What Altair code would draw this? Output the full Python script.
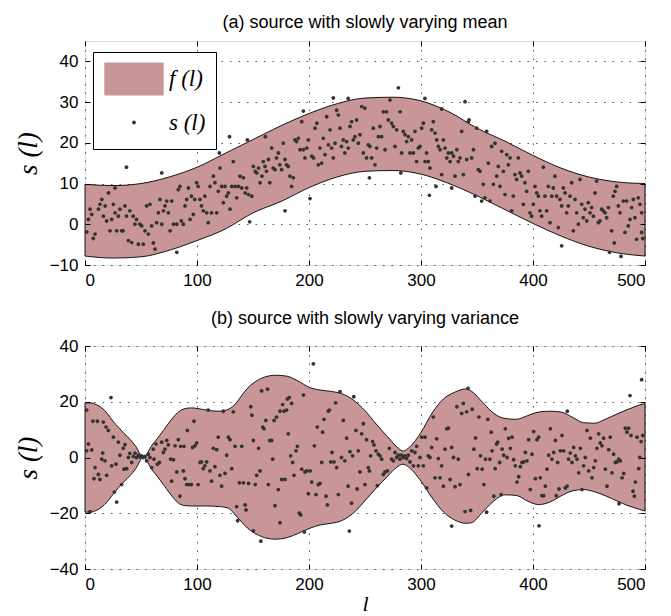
import altair as alt
import pandas as pd

# ---------------- panel (a): band f(l) ----------------
band_a_l = [0, 25, 50, 75, 100, 125, 150, 175, 200, 225, 250, 275, 300, 325, 350, 375, 400, 425, 450, 475, 500]
band_a_hi = [9.8, 9.5, 10.0, 11.6, 14.0, 17.4, 20.8, 24.2, 27.2, 29.6, 31.0, 31.2, 30.3, 27.6, 23.6, 20.4, 16.9, 13.8, 11.6, 10.4, 10.0]
band_a_lo = [-7.8, -8.3, -8.0, -6.4, -4.0, -1.2, 2.8, 5.6, 9.0, 11.6, 13.0, 13.2, 12.3, 10.0, 7.0, 3.6, 0.2, -2.9, -5.4, -7.0, -7.8]

# ---------------- panel (a): samples s(l) ----------------
pts_a = [
    (1.5, -1.9), (3, 1.2), (4.5, 3.7), (6, 2.4), (7.4, -3.5), (9, -2.4), (12, 3.7), (13.4, 4.9), (15, 6.1), (16.4, 2),
    (18, 4.5), (19.3, 0.8), (21, 7.7), (22.3, -1.6), (23.8, 1.2), (25.3, 4.9), (26.8, 8.9), (26.8, 2.8), (28.3, -1.6),
    (29.8, 2), (31.2, 3.7), (32.7, -1.6), (34, -1.6), (35.7, 4.5), (37, 2), (37, 14), (38.7, -4), (40, 3.3), (41.7, -4.5),
    (43, 2), (44.6, 0), (46, 1.2), (47.6, -4.9), (49, 0), (50.6, -0.4), (52, -4.9), (53.6, -1.6), (55, 4.5), (56.5, -2.4),
    (58, 4.9), (59.5, -0.4), (61, -4.6), (62.5, -6.1), (64, 0.4), (65.5, 2.8), (67, 6.1), (68.5, 0), (68.5, 12.6), (70, 3.3),
    (71.4, 4.5), (73, 5.7), (74.4, 2.8), (76, -1.6), (77.4, 5.7), (79, 0), (82, 0), (82, -6.9), (83.3, 8.5), (84.8, 9.3),
    (86, 0.8), (87.8, 0), (89.3, 4.5), (90.8, 6.1), (92.3, 8.9), (93.8, 1.2), (95, 6.9), (96.7, 2.4), (98, 6.1), (99.7, 10.2),
    (101, 9.3), (102.7, 6.1), (104, 4.5), (105.6, 3.3), (107, 6.9), (108.6, 2.8), (110, 0.4), (111.6, 9.3), (113, 2.8),
    (114.6, 11.8), (116, 10.2), (117.6, 2.8), (119, 8.1), (120, 17.5), (120.5, 13.8), (122, 9.3), (123.5, 5.3), (125, 9.3),
    (126.5, 6.9), (128, 7.7), (129, 21.5), (129.5, 3.7), (131, 9.3), (132.4, 15.4), (134, 9.3), (135.4, 6.5), (137, 9.3),
    (138.4, 11.8), (140, 8.9), (141.4, 11.4), (143, 7.7), (144.4, 8.9), (145, 20.7), (146, 7.3), (147, 0.6), (149, 6.9),
    (150.3, 14.2), (152, 13), (153.3, 12.6), (155, 13.8), (156.3, 10.2), (158, 11.8), (159.2, 15.4), (160.7, 14.2),
    (161, 21.5), (162, 13), (163.7, 15.9), (165, 10.2), (166.7, 18.7), (168, 13.8), (169.6, 13.4), (171, 16.3), (172.6, 17.5),
    (174, 14.6), (175.6, 13.4), (177, 19.9), (178.6, 15.9), (178.6, 3.3), (180, 14.6), (181.5, 14.2), (183, 11.8),
    (184.5, 9.3), (186, 11.4), (187.5, 20.7), (188.9, 20.3), (190.5, 21.1), (192, 18.3), (193.5, 25.2), (195, 18.3),
    (195, 27.8), (196.4, 16.3), (198, 18.7), (199.4, 20.7), (200.9, 6.3), (202.4, 16.7), (204, 16.3), (205.4, 23.6),
    (207, 24.8), (208.3, 14.6), (209.8, 18.7), (211.3, 15), (212.8, 21.1), (214.3, 17.1), (215.8, 26.4), (217.3, 19.5),
    (218.8, 23.2), (220.2, 18.7), (221.7, 16.3), (221.7, 31), (223.2, 19.9), (224.7, 28), (226.2, 26.8), (227.7, 23.6),
    (229, 19.1), (230.6, 20.7), (232, 17.5), (233.6, 20.3), (235, 18.7), (235, 30.9), (236.6, 24), (238, 25.2),
    (239.5, 20.7), (241, 21.5), (242.5, 25.6), (244, 19.9), (245.5, 22), (247, 28.9), (248.5, 17.5), (249.9, 28.5),
    (251.4, 16.3), (252.9, 19.5), (253.9, 11.4), (254.4, 19.1), (255.9, 16.3), (257.4, 23.6), (258.9, 14.6),
    (260.4, 18.7), (261.9, 21.5), (263.4, 24), (264.9, 21.5), (266.4, 27.6), (267.9, 18.3), (269.3, 27.6), (270.8, 25.6),
    (272.3, 30.5), (273.8, 24.8), (275.3, 24), (276.8, 19.1), (278.3, 23.2), (279.8, 33.5), (281.3, 27.6), (282, 12.6),
    (282.7, 17.5), (284.2, 22.8), (285.7, 22), (287.2, 20.3), (288.7, 21.5), (290.2, 17.5), (291.7, 20.7), (293.2, 17.5),
    (294.6, 22.8), (296.1, 15.4), (297.6, 18.7), (299.1, 19.1), (300.6, 23.6), (302.1, 24.8), (303.5, 30.9), (303.6, 15.4),
    (305, 17.5), (306.5, 15.4), (307.5, 7.1), (308, 13.8), (309.5, 23.2), (311, 25.2), (312.5, 22.4), (313.4, 9.3),
    (314, 20.7), (315.5, 19.1), (317, 18.3), (318.4, 12.2), (318.4, 28.3), (320, 20.7), (321.4, 18.7), (323, 16.3),
    (324.4, 17.5), (326, 15.4), (327.4, 17.5), (327.4, 8.9), (329, 16.7), (330.4, 11.8), (332, 18.3), (333.3, 15.4),
    (334.8, 16.3), (336.3, 22.8), (337.8, 12.2), (339.3, 30.1), (340.8, 15.9), (342.3, 25.2), (342.9, 25.6),
    (345.2, 16.3), (346.8, 18.3), (348.2, 6.9), (349.7, 23.6), (351.2, 13.4), (352.7, 13), (354.2, 5.7), (355.6, 9.8),
    (357.1, 6.5), (358.6, 22.8), (360.1, 15), (361.6, 5.7), (363.1, 19.1), (364.6, 9.8), (366, 19.9), (367.6, 11.8),
    (369, 14.2), (370.5, 9.3), (372, 17.9), (373.5, 13), (375, 7.3), (376.5, 17.1), (378, 14.6), (379.5, 16.3), (381, 3.3),
    (382.4, 6.9), (383.9, 12.2), (385.4, 11), (386.9, 16.3), (388.4, 12.6), (389.9, 11.8), (391.4, 4.9), (392.8, 10.2),
    (394.3, 8.1), (395.8, 13), (397.3, 2.8), (398.8, 2), (400.3, 4.9), (401.8, 9.3), (403.3, 7.7), (404.8, 6.9),
    (406.2, 3.3), (407.7, 2), (409.2, 14), (410.7, 6.9), (412.2, 3.3), (413.7, 9.3), (415.2, 0.4), (416.7, 6.9),
    (418.1, 8.9), (419.6, 11.8), (421.1, 6.9), (422.6, -0.8), (424.1, 6.1), (425.6, 4.5), (425.6, -5.3), (427.1, 8.9),
    (428.6, 7.7), (430, 2.8), (431.5, 4.5), (433, 6.9), (434.5, 10.2), (436, -1.6), (437.5, 6.1), (439, 2.8), (440.5, 0),
    (442, 11), (443.5, 4.9), (444.9, 1.6), (446.4, 3.7), (448, 0.8), (449.4, 5.3), (450.9, 2.8), (452.4, 4.1), (453.9, 2),
    (455.4, 7.7), (456.8, 10.6), (458.3, 0.4), (459.8, 0.8), (461.3, 3.7), (462.8, 3.3), (464.3, 2.8), (465.8, 1.6),
    (467.3, 4.1), (468.3, -6.9), (470.2, -1.6), (471.7, 6.9), (472.6, -4.6), (473.2, 8.1), (474.7, 9.3), (476.2, 4.5),
    (477.7, 2.8), (478.6, -7.9), (480.7, 5.7), (482.1, -2), (483.6, 5.7), (485.1, -0.4), (486.6, 1.2), (488.1, 4.1),
    (489.6, 6.1), (491, 1.6), (492.5, -3.7), (494, 6.5), (495.5, 4.9), (497, -2), (497, 2.8), (498, -3.5),
]
pts_a_l = [p[0] for p in pts_a]
pts_a_s = [p[1] for p in pts_a]

# ---------------- panel (b): band f(l) ----------------
band_b_l = [0, 5, 10, 15, 20, 25, 30, 35, 40, 45, 52, 60, 65, 70, 75, 80, 85, 90, 95, 100, 110, 120, 128, 135, 140,
            145, 150, 160, 170, 180, 190, 200, 210, 220, 230, 240, 250, 260, 270, 278, 284, 290, 300, 310, 320, 330,
            340, 345, 355, 365, 375, 385, 395, 405, 415, 425, 435, 445, 455, 465, 475, 485, 495, 500]
band_b_hi = [19.6, 19.6, 19.0, 17.8, 15.8, 13.0, 10.8, 8.6, 6.6, 4.2, 0.0, 4.5, 7.0, 9.7, 12.5, 15.0, 16.8, 17.6, 17.8,
             17.6, 16.9, 16.6, 17.3, 19.5, 22.3, 24.8, 26.6, 28.8, 29.5, 29.2, 27.5, 25.2, 24.2, 23.7, 22.8, 20.5, 16.8,
             12.0, 7.5, 4.0, 2.3, 3.8, 9.0, 16.0, 21.0, 23.4, 24.6, 23.8, 19.8, 15.8, 14.0, 13.7, 15.0, 16.3, 16.6, 16.3,
             14.5, 12.5, 12.3, 13.8, 15.6, 17.3, 18.8, 19.4]
band_b_lo = [-19.6, -19.6, -19.0, -17.8, -15.8, -13.2, -10.8, -8.6, -6.6, -4.2, 0.0, -4.5, -7.0, -9.7, -12.5, -15.0,
             -16.8, -17.3, -17.4, -17.4, -17.4, -17.6, -18.2, -21.0, -23.2, -25.3, -26.8, -28.7, -29.3, -28.8, -27.3,
             -25.5, -24.2, -23.6, -22.5, -19.8, -15.5, -11.0, -6.8, -3.6, -2.4, -3.8, -8.5, -14.5, -19.5, -22.4, -23.6,
             -23.4, -19.6, -15.6, -13.4, -13.6, -15.6, -16.9, -16.0, -13.8, -12.0, -11.5, -12.3, -13.8, -15.6, -17.3,
             -18.6, -19.2]

# ---------------- panel (b): samples s(l) ----------------
pts_b = [
    (1.5, 17), (1.5, 2.4), (3, 4.8), (4.5, -19.4), (6, 2.7), (7, 13), (8, -7.6), (9, -3.6), (11, 13), (11.9, -6.1),
    (13.4, -7.9), (15, -0.6), (15.8, 1.6), (16.4, 12.7), (17.9, -1.2), (18.8, 10.9), (19.3, -6.4), (20.8, 9.7),
    (23.2, 21.5), (23.8, -3), (25.3, 7.3), (26.2, -12.4), (27.7, -2.4), (28.3, -16), (29.8, 5.5), (31.2, 0.8),
    (32.7, -9.7), (34.2, 3.3), (34.8, -4.2), (35.7, 4.6), (37.2, -4), (38.7, 0), (40, 1.5), (41.7, -1.8), (43.1, 0.4),
    (44.6, 1.6), (46, 0), (47.6, 0.8), (49, 0.2), (50.6, 0.6), (52, 0), (53.6, 0.4), (55, -1.2), (56.5, 1.2), (58, 0),
    (59.5, -3.6), (61, 3), (61.6, -0.6), (63.4, 4.8), (64.6, -2.4), (66.4, -1.8), (68.5, 5.5), (70, 1.8), (71.4, 3),
    (73, 6.1), (74.4, 4.5), (76.5, -0.6), (77.4, -8.5), (79, -0.8), (80.4, 4.2), (82, -5.2), (83.3, 6.4), (84.8, -13.9),
    (85.4, 4), (87.8, -4.8), (88.4, 4), (89.3, -7.6), (90.8, -9.7), (91.4, 9.7), (93, -9.7), (95, -9.7), (96, 3.6),
    (97.3, 13), (98.2, 4.2), (99.7, 5.2), (101, -9.7), (102.7, -1.8), (104, -1.6), (105.6, -4), (107, -3), (108.6, -1.6),
    (110, 17), (111.6, -4.8), (113, -8.5), (114.6, 3.3), (116, -3.3), (117.6, 2.8), (119, 7.3), (120.5, -6.4),
    (122, -10.3), (123.5, 16.6), (125, -5.7), (126.5, 0.8), (128, 7.3), (129.5, 6.4), (131, -4), (132.4, 16.4), (134, 4),
    (135.4, -17.6), (136.3, -22.7), (137.8, -9.1), (140, 4), (141.4, -9.1), (143, -17), (143.8, -18.8), (146, -9.3),
    (148, 18.2), (149, 15.2), (150.3, 6.1), (150.3, -26.3), (152, -9.7), (153.3, -6.4), (155, 3.3), (156.3, -4.8),
    (157, -30), (157.7, 23.9), (158.7, 10.9), (159.8, 10.3), (161.5, 13.3), (163, 24.5), (163.7, -9.7), (165, 6.1),
    (166.7, 6.1), (167.6, -0.6), (168.8, 13.3), (169.6, -17.3), (171, 14.5), (172.6, -11.5), (174.1, 16.6),
    (174.1, -23.4), (175.6, -7.9), (176.5, 19), (177.7, 16.6), (178.6, -7.9), (180, 17), (180.7, 21), (181.5, 8.5),
    (182.4, 21.5), (183.6, 0.6), (184.5, 19.4), (185.4, -1.8), (186.6, -6.4), (188.4, 2.4), (189.6, 4), (191.4, -20),
    (192.6, -20.6), (193.5, -4.2), (195, 22.4), (195.8, -26.7), (196.4, -5.2), (198, -4.8), (199.4, -13), (201, -4.8),
    (202.4, -8.8), (203.9, 33.6), (204.8, 4.2), (206.3, -13.3), (207.4, 10.9), (208.3, -9.7), (209.8, -9.3),
    (211.3, -1.8), (212.2, 9.1), (213.4, 13.7), (215.2, -13.9), (216.4, -17), (217.3, 16.6), (218.2, 17), (219.4, -1.6),
    (220.5, 1.8), (222.3, -1.6), (223.8, 19.6), (224.7, -3.6), (226.2, -13.3), (227.7, 23.6), (229, 0), (230.6, 13.3),
    (232, -1.2), (233.6, 6.9), (235, -10.3), (236, -26.4), (236.6, 2.1), (238, -16.4), (238.9, 0.6), (240, 21.8),
    (241.9, 9.7), (243, -11.3), (244, 2.4), (245.5, -5.2), (247, 8.5), (248.5, 12.1), (249.9, -9.7), (251.4, 6.4),
    (252.9, -3.6), (253.9, -4.8), (255, 0.6), (256.8, 5.7), (258, 4.5), (259.8, 2.4), (261, -10.1), (261.9, 1.2),
    (263.4, 0.6), (264.9, -0.6), (266.4, -6.1), (267.9, -5.2), (270, -4.8), (271.7, 3.3), (273.8, -0.6), (275.3, -1.2),
    (276.8, 1.8), (278.3, 0), (279.8, 0.8), (281.3, -0.6), (282.7, 0.8), (284.2, 0), (285.7, 0.6), (287.2, -0.4),
    (288.7, 0.8), (290.2, -1.6), (291.7, 2.4), (293.2, -3), (294.6, 1.8), (296.1, 4), (297.6, -3), (299.1, 0),
    (300.6, 7.3), (302.1, -3), (303.6, 7.3), (305, -10.9), (306.5, 0.6), (308, 0), (309.5, 3.6), (311, 14.5),
    (312.5, -7.3), (314, 6.7), (315.5, -0.4), (317, -7.3), (318.4, -3), (320, -10.3), (321.4, 3), (323, 10.3),
    (324.4, 10.5), (326, -7.9), (327.4, 3.6), (327.4, -24.6), (329, 0), (330.4, -10.5), (332, 18.2), (333.3, -0.6),
    (334.8, -9.7), (336.3, 15.8), (337.8, 19.4), (339.3, -19.4), (340.8, 16.4), (342, 24.8), (342.3, -6.1),
    (344.3, -19), (345.7, 17.3), (347.2, 3), (348.7, 7), (350.2, -4), (351.7, 14.5), (353.1, 0.6), (354.6, -4.2),
    (356.1, -9.7), (357.6, -0.6), (358.6, -19.6), (359.7, 13.7), (361.5, -0.6), (362.7, 9.1), (363.5, 2.4),
    (365, -13.9), (366.2, -4), (367.4, 4.8), (368.5, 5.5), (370.3, -1.8), (371.5, -13.3), (372.4, 3), (373.8, 0.8),
    (375.3, 10.3), (376.8, 0), (378.3, 6.9), (379.8, 3.3), (381.3, 7.3), (382.7, -0.8), (384.2, -3), (385.7, -8.8),
    (387.2, -6.9), (388.7, -3.3), (390.2, -1.8), (391.7, -1.6), (393.2, 1.8), (394.6, -1.2), (396.1, 6.4),
    (397.6, -11.5), (399.1, 1.2), (400.6, 9.3), (402.1, -7.6), (403.6, 6.4), (405, 7.3), (405.4, -24.5), (406.5, -7.3),
    (408, -13.7), (409.5, -13.7), (411, -10.3), (412.5, -4.2), (414, 0.8), (415.5, 10.3), (416.9, -0.6), (418.5, 1.8),
    (420, 6.1), (420.8, -13.7), (422, -1.8), (423.2, -11.3), (424.4, 2.4), (425.9, 7.9), (427.4, 2.4), (428.9, -10.9),
    (430.4, -10.3), (430.6, 16.6), (431.8, -0.6), (433.3, 1.6), (434.8, -1.8), (436.3, 3.6), (437.8, 0.6),
    (439.3, -0.6), (440.8, -5.5), (442.3, 3.3), (443.8, -11.5), (445.2, -3), (446.7, 0), (448.2, 9.7), (449.7, -4.8),
    (451.2, 6.9), (452.7, -7.3), (454.2, -3.6), (455.7, -1.2), (457.1, 3.3), (458.6, 8.5), (460.1, 5.2), (461.6, 4.2),
    (463.1, 6.9), (464.6, -4.2), (466.1, -10.3), (467.6, 2.8), (469, 7.3), (470.5, -5.5), (472, 1.2), (473.5, -1.8),
    (475, -1.6), (476.5, -0.6), (476.8, -16.6), (478, -1.2), (479.5, -7.3), (481, -5.7), (482.4, 10.5), (483.9, 9.1),
    (485.4, 10.5), (486.6, 22.2), (487.5, 7.9), (489.3, -12.1), (490.5, -13.9), (491.4, -8.8), (492.9, 7.3),
    (494.4, -4), (495.3, 0), (496.5, 5.7), (497, 27.9), (498, 7.9),
]
pts_b_l = [p[0] for p in pts_b]
pts_b_s = [p[1] for p in pts_b]

x_ticks = [0, 100, 200, 300, 400, 500]
y_ticks_a = [-10, 0, 10, 20, 30, 40]
y_ticks_b = [-40, -20, 0, 20, 40]
legend_labels = ["f (l)", "s (l)"]
titles = ["(a) source with slowly varying mean", "(b) source with slowly varying variance"]

BAND = "#c99697"
DOT = "#333333"
SANS = "Liberation Sans"
SERIF = "Liberation Serif"
W = 560
INNER = {"expr": "-5"}
GRID = dict(grid=True, gridColor="#555555", gridDash=[1.5, 7], gridWidth=1)
RECT_PATH = "M-1.8,-1H1.8V1H-1.8Z"
# small filled dot; the two bare move-to points only widen its layout box (used by the legend row height)
DOT_PATH = "M0.136,0A0.136,0.136 0 1,1 -0.136,0A0.136,0.136 0 1,1 0.136,0Z M0,-1 M0,1"
DOT_SIZE = 784
NBSP = "\u00a0"


def tick_axis(orient, values):
    return alt.Axis(values=values, orient=orient, tickSize=INNER, tickColor="black", tickWidth=1,
                    labels=False, domain=False, grid=False, title=None, zindex=2)


def panel(band_l, band_lo, band_hi, pl, ps, ydom, yticks, title, height, legend=False, xtitle=None):
    band_df = pd.DataFrame({"l": band_l, "lo": band_lo, "hi": band_hi})
    pts_df = pd.DataFrame({"l": pl, "s": ps, "series": legend_labels[1]})
    xs = alt.Scale(domain=[0, 500], nice=False, zero=False)
    ys = alt.Scale(domain=ydom, nice=False, zero=False)

    x_main = alt.Axis(values=x_ticks, orient="bottom", ticks=False, labelPadding=7,
                      labelFont=SANS, labelFontSize=17, labelColor="black", domain=False, zindex=0,
                      title=xtitle, titleFont=SERIF, titleFontStyle="italic", titleFontWeight="normal",
                      titleFontSize=22, titleColor="black", titlePadding=1, **GRID)
    y_main = alt.Axis(values=yticks, orient="left", ticks=False, labelPadding=7,
                      labelFont=SANS, labelFontSize=17, labelColor="black", domain=False, zindex=0,
                      title="s (l)", titleFont=SERIF, titleFontStyle="italic", titleFontWeight="normal",
                      titleFontSize=27, titleColor="black", titlePadding=7, **GRID)

    band = alt.Chart(band_df).mark_area(
        interpolate="monotone", fill=BAND, stroke="black", strokeWidth=0.9
    ).encode(
        x=alt.X("l:Q", scale=xs, axis=x_main),
        y=alt.Y("lo:Q", scale=ys, axis=y_main),
        y2="hi:Q",
    )

    # invisible layer that only carries the inward ticks of the bottom / left edges
    ticks_bl = alt.Chart(band_df).mark_line(opacity=0).encode(
        x=alt.X("l:Q", scale=xs, axis=tick_axis("bottom", x_ticks)),
        y=alt.Y("hi:Q", scale=ys, axis=tick_axis("left", yticks)),
    )

    if legend:
        lg = alt.Legend(title=None, orient="none", legendX=8, legendY=11, padding=10,
                        fillColor="white", strokeColor="black", labelFont=SERIF,
                        labelFontStyle="italic", labelFontSize=23, labelColor="black", labelOffset=18,
                        labelExpr="datum.label + '" + NBSP * 3 + "'",
                        symbolOffset=14, rowPadding=8, symbolStrokeColor="black", symbolStrokeWidth=0.8)
        pts = alt.Chart(pts_df).mark_point(filled=True, opacity=1, strokeWidth=0).encode(
            x=alt.X("l:Q", scale=xs, axis=tick_axis("top", x_ticks)),
            y=alt.Y("s:Q", scale=ys, axis=tick_axis("right", yticks)),
            fill=alt.Fill("series:N", scale=alt.Scale(domain=legend_labels, range=[BAND, DOT]), legend=lg),
            shape=alt.Shape("series:N", scale=alt.Scale(domain=legend_labels, range=[RECT_PATH, DOT_PATH]),
                            legend=lg),
            size=alt.Size("series:N", scale=alt.Scale(domain=legend_labels, range=[1089, DOT_SIZE]), legend=lg),
        )
    else:
        pts = alt.Chart(pts_df).mark_point(filled=True, opacity=1, strokeWidth=0, fill=DOT,
                                           shape=DOT_PATH, size=DOT_SIZE).encode(
            x=alt.X("l:Q", scale=xs, axis=tick_axis("top", x_ticks)),
            y=alt.Y("s:Q", scale=ys, axis=tick_axis("right", yticks)),
        )

    return alt.layer(band, ticks_bl, pts).resolve_axis(x="independent", y="independent").properties(
        width=W, height=height,
        title=alt.TitleParams(title, font=SANS, fontSize=18, fontWeight="normal", color="black", offset=9),
    )


top = panel(band_a_l, band_a_lo, band_a_hi, pts_a_l, pts_a_s, [-10, 45], y_ticks_a, titles[0], 224, legend=True)
bottom = panel(band_b_l, band_b_lo, band_b_hi, pts_b_l, pts_b_s, [-40, 40], y_ticks_b, titles[1], 223, xtitle="l")

chart = alt.vconcat(top, bottom, spacing=20).properties(
    padding={"left": 5, "top": 5, "right": 5, "bottom": 0}
).configure_view(
    stroke="black", strokeWidth=1.2
).configure(background="white")

chart.save("out.html", embed_options={"renderer": "svg", "actions": False})
